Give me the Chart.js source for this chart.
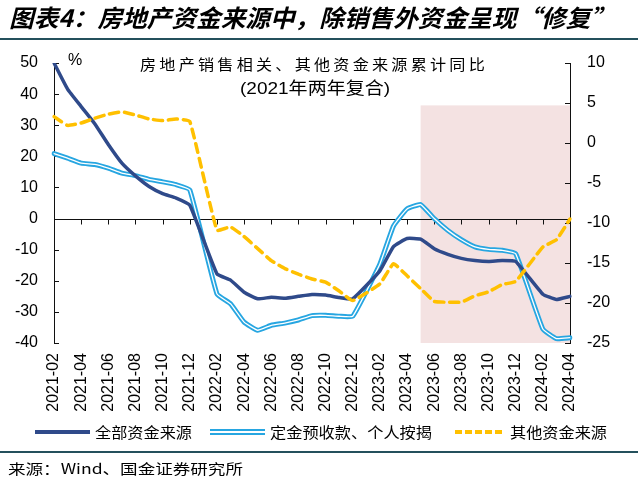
<!DOCTYPE html>
<html>
<head>
<meta charset="utf-8">
<script src="https://cdn.jsdelivr.net/npm/chart.js@4.4.1/dist/chart.umd.min.js"></script>
<style>
  body { margin: 0; background: #fff; }
  #wrap { position: relative; width: 642px; height: 487px; overflow: hidden; font-family: "Noto Sans CJK SC", sans-serif; color: #000; }
  #c { position: absolute; left: 0; top: 0; }
  .t { position: absolute; white-space: nowrap; transform-origin: 0 0; line-height: 1; }
  .rule { position: absolute; left: 0; width: 638px; height: 2px; background: #24505c; }
  .key { position: absolute; }
</style>
</head>
<body>
<div id="wrap">
  <canvas id="c" width="642" height="487"></canvas>

  <div class="t fit" data-w="606" style="left:9px;top:5px;font-size:24px;font-weight:bold;font-style:italic;">图表4：房地产资金来源中，除销售外资金呈现“修复”</div>
  <div class="rule" style="top:38px"></div>

  <div class="t fit" data-w="348" style="left:140px;top:56px;font-size:15px;letter-spacing:3px;">房地产销售相关、其他资金来源累计同比</div>
  <div class="t fit" data-w="150" style="left:240px;top:80px;font-size:17px;font-family:'Liberation Sans','Noto Sans CJK SC',sans-serif;">(2021年两年复合)</div>
  <div class="t" style="left:68px;top:52px;font-size:16px;font-family:'Liberation Sans',sans-serif;">%</div>

  <div class="key" style="left:35px;top:430px;width:55px;height:4px;background:#2f4a8a;"></div>
  <div class="t fit" data-w="97" style="left:95px;top:424px;font-size:15px;">全部资金来源</div>
  <div class="key" style="left:210px;top:429px;width:55px;height:2px;border-top:2px solid #27a6e1;border-bottom:2px solid #27a6e1;background:#fff;"></div>
  <div class="t fit" data-w="162" style="left:270px;top:424px;font-size:15px;">定金预收款、个人按揭</div>
  <div class="key" style="left:455px;top:430px;width:50px;height:4px;background:repeating-linear-gradient(90deg,#ffc000 0 7px,transparent 7px 10px);"></div>
  <div class="t fit" data-w="97" style="left:510px;top:424px;font-size:15px;">其他资金来源</div>

  <div class="rule" style="top:451px"></div>
  <div class="t fit" data-w="235" style="left:8px;top:461px;font-size:14px;">来源：Wind、国金证券研究所</div>
</div>

<script>
// months on the x axis (January has no separate release, so those are null)
const MONTHS = [
  '2021-02','2021-03','2021-04','2021-05','2021-06','2021-07','2021-08','2021-09','2021-10','2021-11','2021-12',
  '2022-01','2022-02','2022-03','2022-04','2022-05','2022-06','2022-07','2022-08','2022-09','2022-10','2022-11','2022-12',
  '2023-01','2023-02','2023-03','2023-04','2023-05','2023-06','2023-07','2023-08','2023-09','2023-10','2023-11','2023-12',
  '2024-01','2024-02','2024-03','2024-04'
];

// 全部资金来源 (left axis, %)
const TOTAL_FUNDS = [
  50, 41.6, 36, 30.5, 23.8, 17.8, 13.7, 10.3, 8.0, 6.6, 4.3,
  null, -17.8, -19.8, -23.7, -25.8, -25.3, -25.6, -25.0, -24.4, -24.6, -25.4, -25.8,
  null, -16.8, -9.0, -6.4, -6.6, -9.7, -11.5, -12.8, -13.5, -13.8, -13.5, -13.8,
  null, -24.3, -26.0, -25.0
];

// 定金预收款、个人按揭 (left axis, %)
const SALES_FUNDS = [
  20.9, 19.4, 17.8, 17.4, 16.2, 14.6, 13.8, 12.6, 11.8, 10.9, 9.2,
  null, -24.2, -27.4, -33.3, -35.9, -34.3, -33.6, -32.6, -31.2, -31.1, -31.4, -31.4,
  null, -14.6, -2.4, 3.1, 4.5, 0, -3.8, -6.8, -9.1, -9.9, -10.2, -11.3,
  null, -35.5, -38.6, -38.3
];

// 其他资金来源 (right axis, %)
const OTHER_FUNDS = [
  3.3, 2.2, 2.5, 3.1, 3.6, 3.9, 3.5, 3.0, 2.8, 3.0, 2.7,
  null, -10.9, -10.5, -11.7, -13.2, -14.7, -15.7, -16.4, -17.0, -17.4, -18.5, -19.7,
  null, -17.6, -15.1, -16.6, -18.2, -19.8, -19.9, -19.9, -19.1, -18.6, -17.7, -17.3,
  null, -13.0, -12.1, -9.5
];

const LEFT_TICKS = [50, 40, 30, 20, 10, 0, -10, -20, -30, -40];
const RIGHT_TICKS = [10, 5, 0, -5, -10, -15, -20, -25];

// highlighted period (pink box)
const SHADE_FROM = '2023-05';
const SHADE_TOP = 4.7; // right axis value

const NAVY = '#2f4a8a';
const SKY = '#27a6e1';
const GOLD = '#ffc000';

// squeeze/stretch the html texts to the widths they have in the picture
document.querySelectorAll('.fit').forEach(el => {
  const w = el.getBoundingClientRect().width;
  el.style.transform = 'scaleX(' + (Number(el.dataset.w) / w) + ')';
});

const decor = {
  id: 'decor',
  beforeDraw(chart) {
    const { ctx, chartArea: a, scales: { x, y2 } } = chart;
    const x0 = x.getPixelForValue(MONTHS.indexOf(SHADE_FROM));
    const yTop = y2.getPixelForValue(SHADE_TOP);
    ctx.save();
    ctx.fillStyle = '#f4e2e2';
    ctx.fillRect(x0, yTop, a.right - x0, a.bottom - yTop);
    ctx.restore();
  },
  beforeDatasetsDraw(chart) {
    const { ctx, chartArea: a, scales: { x, y, y2 } } = chart;
    const y0 = Math.round(y.getPixelForValue(0)) + 0.5;
    ctx.save();
    ctx.strokeStyle = '#111';
    ctx.lineWidth = 1;
    ctx.beginPath();
    ctx.moveTo(a.left, y0);
    ctx.lineTo(a.right, y0);
    MONTHS.forEach((m, i) => {
      if (i % 2) return;
      const px = Math.round(x.getPixelForValue(i)) + 0.5;
      ctx.moveTo(px, y0);
      ctx.lineTo(px, y0 + 5);
    });
    LEFT_TICKS.forEach(v => {
      const py = Math.round(y.getPixelForValue(v)) + 0.5;
      ctx.moveTo(a.left, py);
      ctx.lineTo(a.left + 5, py);
    });
    RIGHT_TICKS.forEach(v => {
      const py = Math.round(y2.getPixelForValue(v)) + 0.5;
      ctx.moveTo(a.right, py);
      ctx.lineTo(a.right - 5, py);
    });
    ctx.stroke();
    ctx.restore();
  }
};

const tickFont = { family: "'Liberation Sans', Arial, sans-serif", size: 16 };

new Chart(document.getElementById('c'), {
  type: 'line',
  data: {
    labels: MONTHS,
    datasets: [
      { label: '其他资金来源', data: OTHER_FUNDS, yAxisID: 'y2', order: 0,
        borderColor: GOLD, borderWidth: 3.5, borderDash: [9, 6] },
      { label: '全部资金来源', data: TOTAL_FUNDS, yAxisID: 'y', order: 1,
        borderColor: NAVY, borderWidth: 3.5 },
      { label: 'inner', data: SALES_FUNDS, yAxisID: 'y', order: 2,
        borderColor: '#fff', borderWidth: 1.3 },
      { label: '定金预收款、个人按揭', data: SALES_FUNDS, yAxisID: 'y', order: 3,
        borderColor: SKY, borderWidth: 5 }
    ]
  },
  options: {
    responsive: false,
    animation: false,
    devicePixelRatio: 1,
    spanGaps: true,
    elements: { point: { radius: 0 }, line: { tension: 0.12, borderCapStyle: 'round', borderJoinStyle: 'round' } },
    layout: { padding: { top: 63, left: 0, right: 0, bottom: 0 } },
    plugins: { legend: { display: false }, tooltip: { enabled: false } },
    scales: {
      x: {
        grid: { display: false, drawTicks: false },
        border: { display: false },
        afterFit(s) { s.height = 144; },
        ticks: {
          autoSkip: false, minRotation: 90, maxRotation: 90, padding: 10,
          color: '#000', font: tickFont,
          callback: (v, i) => (i % 2 === 0 ? MONTHS[i] : '')
        }
      },
      y: {
        position: 'left', min: -40, max: 50,
        grid: { display: false, drawTicks: false },
        border: { display: true, color: '#111', width: 1 },
        afterFit(s) { s.width = 54; },
        ticks: { stepSize: 10, padding: 16, color: '#000', font: tickFont }
      },
      y2: {
        position: 'right', min: -25, max: 10,
        grid: { display: false, drawTicks: false },
        border: { display: true, color: '#111', width: 1 },
        afterFit(s) { s.width = 72; },
        ticks: { stepSize: 5, padding: 17, color: '#000', font: tickFont }
      }
    }
  },
  plugins: [decor]
});
</script>
</body>
</html>
